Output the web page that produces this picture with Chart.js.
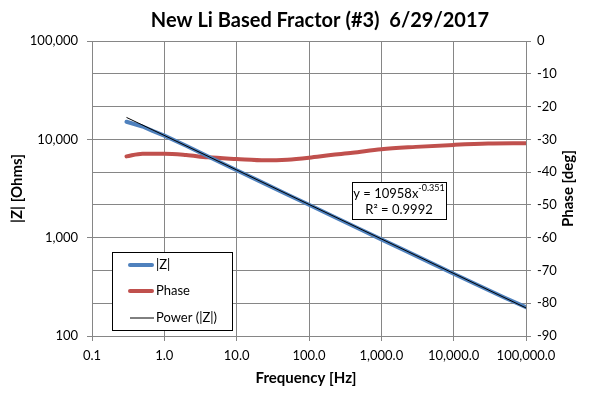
<!DOCTYPE html>
<html>
<head>
<meta charset="utf-8">
<script src="https://cdn.jsdelivr.net/npm/chart.js@4.4.1/dist/chart.umd.min.js"></script>
<style>
  html, body { margin: 0; background: #fff; }
  #wrap { width: 591px; height: 395px; }
</style>
</head>
<body>
<div id="wrap"><canvas id="chart" width="591" height="395"></canvas></div>
<script>
// ===== data =====
const freqZ = [0.3, 0.5, 0.7, 1, 2, 5, 10, 20, 50, 100, 200, 500, 1000, 2000, 5000, 10000, 20000, 50000, 100000];
const zMag  = [15100, 13500, 12100, 10900, 8600, 6200, 4850, 3800, 2750, 2160, 1690, 1225, 960, 755, 548, 430, 338, 246, 196];

const freqPhase = [0.3, 0.5, 1, 2, 4, 10, 25, 50, 100, 200, 400, 1000, 3000, 10000, 30000, 100000];
const phase     = [-35.2, -34.4, -34.4, -34.8, -35.5, -36.0, -36.4, -36.2, -35.6, -34.8, -34.1, -33.0, -32.3, -31.7, -31.3, -31.2];

// power trendline end points
const freqTrend = [0.3, 100000];
const zTrend    = [16700, 193];

const xTicks      = [0.1, 1, 10, 100, 1000, 10000, 100000];
const xTickLabels = ['0.1', '1.0', '10.0', '100.0', '1,000.0', '10,000.0', '100,000.0'];
const yTicks      = [100, 1000, 10000, 100000];
const yTickLabels = ['100', '1,000', '10,000', '100,000'];
const phaseTicks  = [-90, -80, -70, -60, -50, -40, -30, -20, -10, 0];

const seriesNames = ['|Z|', 'Phase', 'Power (|Z|)'];
const chartTitle  = 'New Li Based Fractor (#3)  6/29/2017';
const xTitle = 'Frequency [Hz]';
const yTitle = '|Z| [Ohms]';
const y1Title = 'Phase [deg]';
const trendEq = ['y = 10958x', '-0.351'];
const trendR2 = 'R\u00B2 = 0.9992';

const FONT = 'Lato, "Open Sans", sans-serif';
const GRID = '#868686';
const BLUE = '#4f81bd';
const RED = '#c0504d';

const pts = (xs, ys) => xs.map((x, i) => ({ x: x, y: ys[i] }));

// ===== texts drawn over the chart =====
const textPlugin = {
  id: 'texts',
  afterDraw(chart) {
    const c = chart.ctx;
    const a = chart.chartArea;
    c.save();
    c.fillStyle = '#000';
    c.textBaseline = 'middle';

    // title
    c.font = 'bold 20px ' + FONT;
    c.textAlign = 'center';
    c.fillText(chartTitle, 320, 21);

    // axis titles
    c.font = 'bold 15px ' + FONT;
    c.fillText(xTitle, 306, 378);
    c.save();
    c.translate(17, (a.top + a.bottom) / 2);
    c.rotate(-Math.PI / 2);
    c.fillText(yTitle, 0, 0);
    c.restore();
    c.save();
    c.translate(568, (a.top + a.bottom) / 2);
    c.rotate(-Math.PI / 2);
    c.fillText(y1Title, 0, 0);
    c.restore();

    // legend
    c.fillStyle = '#fff';
    c.fillRect(112, 252, 120, 78);
    c.strokeStyle = '#000';
    c.lineWidth = 1;
    c.strokeRect(112.5, 252.5, 120, 78);
    const rows = [265, 291, 318];
    chart.data.datasets.forEach((ds, i) => {
      c.beginPath();
      c.strokeStyle = ds.borderColor;
      c.lineWidth = ds.borderWidth;
      c.lineCap = i < 2 ? 'round' : 'butt';
      c.moveTo(130, rows[i]);
      c.lineTo(i < 2 ? 152 : 154, rows[i]);
      c.stroke();
      c.fillStyle = '#000';
      c.font = '13px ' + FONT;
      c.textAlign = 'left';
      c.fillText(ds.label, 156, rows[i]);
    });

    // trendline label
    c.fillStyle = '#fff';
    c.fillRect(352, 182, 94, 37);
    c.strokeStyle = '#000';
    c.lineWidth = 1;
    c.strokeRect(352.5, 182.5, 94, 37);
    c.fillStyle = '#000';
    c.font = '13px ' + FONT;
    const w1 = c.measureText(trendEq[0]).width;
    c.font = '9px ' + FONT;
    const w2 = c.measureText(trendEq[1]).width;
    const x0 = 399 - (w1 + w2) / 2;
    c.textAlign = 'left';
    c.font = '13px ' + FONT;
    c.fillText(trendEq[0], x0, 194);
    c.font = '9px ' + FONT;
    c.fillText(trendEq[1], x0 + w1, 188);
    c.font = '13px ' + FONT;
    c.textAlign = 'center';
    c.fillText(trendR2, 399, 210);
    c.restore();
  }
};

const ctx = document.getElementById('chart').getContext('2d');
const chart = new Chart(ctx, {
  type: 'line',
  data: {
    datasets: [
      {
        label: seriesNames[0],
        data: pts(freqZ, zMag),
        yAxisID: 'y',
        borderColor: BLUE,
        borderWidth: 4,
        borderCapStyle: 'round',
        borderJoinStyle: 'round',
        pointRadius: 0,
        tension: 0,
        order: 1
      },
      {
        label: seriesNames[1],
        data: pts(freqPhase, phase),
        yAxisID: 'y1',
        borderColor: RED,
        borderWidth: 4,
        borderCapStyle: 'round',
        borderJoinStyle: 'round',
        pointRadius: 0,
        cubicInterpolationMode: 'monotone',
        order: 2
      },
      {
        label: seriesNames[2],
        data: pts(freqTrend, zTrend),
        yAxisID: 'y',
        borderColor: '#000',
        borderWidth: 1,
        pointRadius: 0,
        tension: 0,
        order: 0
      }
    ]
  },
  options: {
    responsive: false,
    animation: false,
    layout: { padding: { top: 41, left: 0, right: 0, bottom: 0 } },
    plugins: {
      legend: { display: false },
      title: { display: false },
      tooltip: { enabled: false }
    },
    scales: {
      x: {
        type: 'logarithmic',
        min: 0.1,
        max: 100000,
        afterBuildTicks: s => { s.ticks = xTicks.map(v => ({ value: v })); },
        afterFit: s => { s.height = 59; },
        ticks: {
          autoSkip: false,
          maxRotation: 0,
          padding: 7,
          color: '#000',
          font: { family: FONT, size: 13 },
          callback: (v, i) => xTickLabels[i]
        },
        grid: { color: GRID, tickColor: GRID, tickLength: 5 },
        border: { color: GRID }
      },
      y: {
        type: 'logarithmic',
        position: 'left',
        min: 100,
        max: 100000,
        afterBuildTicks: s => { s.ticks = yTicks.map(v => ({ value: v })); },
        afterFit: s => { s.width = 92; },
        ticks: {
          padding: 9,
          color: '#000',
          font: { family: FONT, size: 13 },
          callback: (v, i) => yTickLabels[i]
        },
        grid: { drawOnChartArea: false, tickColor: GRID, tickLength: 5 },
        border: { color: GRID }
      },
      y1: {
        type: 'linear',
        position: 'right',
        min: -90,
        max: 0,
        afterBuildTicks: s => { s.ticks = phaseTicks.map(v => ({ value: v })); },
        afterFit: s => { s.width = 65; },
        ticks: {
          padding: 6,
          color: '#000',
          font: { family: FONT, size: 13 },
          callback: v => String(v)
        },
        grid: { color: GRID, tickColor: GRID, tickLength: 5 },
        border: { color: GRID }
      }
    }
  },
  plugins: [textPlugin]
});
</script>
</body>
</html>
